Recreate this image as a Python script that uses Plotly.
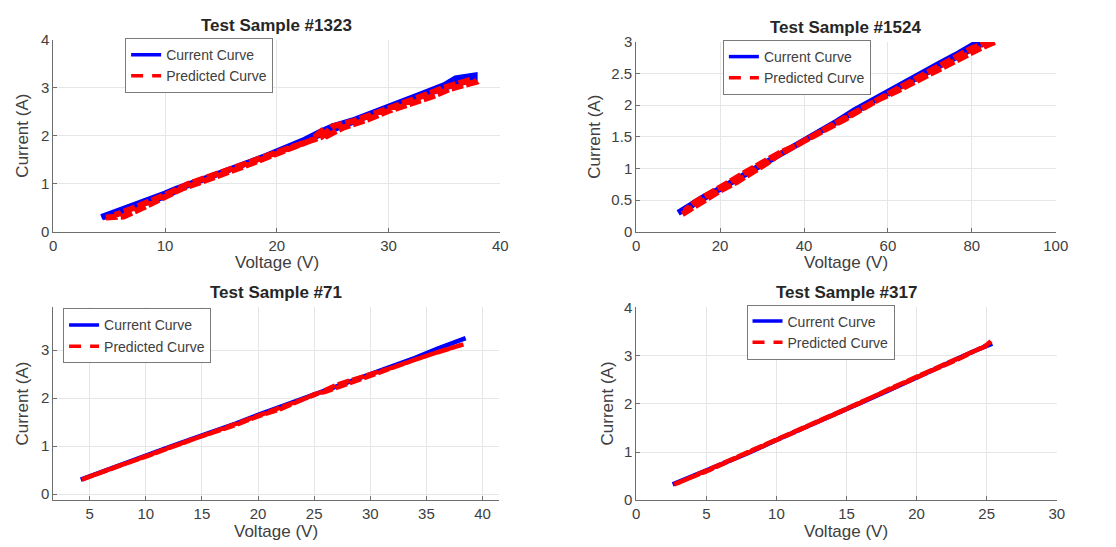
import plotly.graph_objects as go

# ---------------- data ----------------
titles = ["Test Sample #1323", "Test Sample #1524", "Test Sample #71", "Test Sample #317"]

# Sample #1323 (forward sweep followed by return sweep)
s1_cur_v = [4.3, 6, 8, 10, 11, 13, 15, 17, 19, 21, 22.5, 24, 25, 27, 29, 31, 33, 35, 36, 37.7,
            37.7, 36, 34, 32, 30, 28, 26, 24, 22, 20, 18, 16, 14, 12, 10, 8, 6, 4.4]
s1_cur_i = [0.31, 0.45, 0.62, 0.8, 0.9, 1.06, 1.23, 1.4, 1.58, 1.77, 1.92, 2.1, 2.2, 2.34, 2.53, 2.7, 2.88, 3.06, 3.2, 3.26,
            3.18, 3.08, 2.93, 2.76, 2.58, 2.4, 2.24, 2.04, 1.84, 1.66, 1.48, 1.31, 1.14, 0.97, 0.74, 0.58, 0.4, 0.3]
s1_pred_v = [4.7, 6.3, 8, 9.5, 10.5, 11.5, 13, 15, 17, 19, 21, 23, 24, 24.5, 26, 28, 30, 32, 34, 35.5, 37.7,
             37.5, 35, 33, 31, 29, 27, 25, 24, 22, 20, 18, 16, 14, 12, 10.5, 9, 7, 5.5]
s1_pred_i = [0.3, 0.32, 0.5, 0.66, 0.8, 0.9, 1.02, 1.18, 1.36, 1.54, 1.72, 1.9, 2.1, 2.0, 2.18, 2.33, 2.52, 2.66, 2.83, 2.98, 3.12,
             3.18, 3.01, 2.83, 2.66, 2.5, 2.32, 2.2, 1.98, 1.82, 1.67, 1.49, 1.32, 1.15, 0.99, 0.82, 0.66, 0.48, 0.35]

# Sample #1524
s2_cur_v = [10, 13, 16, 20, 24, 28, 32, 36, 40, 44, 48, 52, 56, 60, 64, 68, 72, 76, 80, 82, 84,
            85, 82, 78, 74, 70, 66, 62, 58, 54, 50, 46, 42, 38, 34, 30, 26, 22, 18, 14, 11]
s2_cur_i = [0.3, 0.42, 0.55, 0.68, 0.83, 0.99, 1.15, 1.3, 1.45, 1.59, 1.75, 1.92, 2.07, 2.2, 2.35, 2.5, 2.65, 2.79, 2.94, 3.02, 3.05,
            3.0, 2.96, 2.82, 2.68, 2.56, 2.42, 2.26, 2.12, 1.97, 1.83, 1.67, 1.52, 1.37, 1.22, 1.06, 0.9, 0.75, 0.6, 0.45, 0.31]
s2_pred_v = [11, 14, 17, 20, 24, 28, 31, 34, 38, 42, 46, 50, 54, 58, 62, 66, 70, 74, 78, 82, 85.5,
             84, 80, 76, 72, 68, 65, 62, 58, 54, 50, 46, 42, 38, 34, 30, 26, 22, 18, 14, 11.5]
s2_pred_i = [0.28, 0.41, 0.54, 0.65, 0.79, 0.95, 1.08, 1.22, 1.36, 1.5, 1.64, 1.79, 1.95, 2.1, 2.22, 2.36, 2.5, 2.63, 2.76, 2.9, 3.0,
             3.0, 2.9, 2.76, 2.62, 2.48, 2.38, 2.25, 2.1, 1.96, 1.82, 1.66, 1.51, 1.36, 1.24, 1.1, 0.94, 0.78, 0.62, 0.47, 0.33]

# Sample #71
s3_cur_v = [4.2, 6, 8, 10, 12, 14, 16, 18, 20, 22, 24, 26, 28, 30, 32, 34, 36, 38.5]
s3_cur_i = [0.3, 0.46, 0.62, 0.8, 0.97, 1.14, 1.3, 1.47, 1.65, 1.82, 1.98, 2.15, 2.32, 2.49, 2.66, 2.84, 3.03, 3.25]
s3_pred_v = [4.3, 6, 8, 10, 12, 14, 16, 18, 20, 22, 24, 25, 26, 28, 30, 32, 34, 36, 38.3,
             38, 35, 32, 29, 27, 25, 22, 19, 16, 13, 10, 7, 4.5]
s3_pred_i = [0.3, 0.45, 0.61, 0.79, 0.96, 1.13, 1.28, 1.44, 1.62, 1.77, 1.97, 2.08, 2.13, 2.3, 2.48, 2.63, 2.8, 2.96, 3.12,
             3.08, 2.88, 2.64, 2.42, 2.28, 2.06, 1.8, 1.55, 1.29, 1.04, 0.78, 0.54, 0.32]

# Sample #317
s4_cur_v = [2.6, 4, 6, 8, 10, 12, 14, 16, 18, 20, 22, 24, 25.4]
s4_cur_i = [0.33, 0.5, 0.72, 0.98, 1.25, 1.5, 1.75, 2.02, 2.28, 2.55, 2.82, 3.08, 3.25]
s4_pred_v = [2.7, 4, 5, 7, 9, 11, 13, 14, 15, 16, 18, 20, 21, 22, 23, 24, 25, 25.3,
             25, 23, 21, 19, 17, 15, 13, 11, 9, 7, 5, 3]
s4_pred_i = [0.33, 0.48, 0.6, 0.86, 1.12, 1.38, 1.62, 1.76, 1.88, 2.02, 2.3, 2.56, 2.7, 2.84, 2.96, 3.08, 3.2, 3.3,
             3.22, 2.93, 2.68, 2.43, 2.16, 1.9, 1.64, 1.38, 1.14, 0.88, 0.62, 0.36]

# axis settings
x_ranges = [[0, 40], [0, 100], [1.75, 41.5], [0, 30]]
y_ranges = [[0, 4], [0, 3], [-0.13, 3.89], [0, 4]]
x_ticks = [[0, 10, 20, 30, 40], [0, 20, 40, 60, 80, 100], [5, 10, 15, 20, 25, 30, 35, 40], [0, 5, 10, 15, 20, 25, 30]]
y_ticks = [[0, 1, 2, 3, 4], [0, 0.5, 1, 1.5, 2, 2.5, 3], [0, 1, 2, 3], [0, 1, 2, 3, 4]]
y_tick_text = [["0", "1", "2", "3", "4"], ["0", "0.5", "1", "1.5", "2", "2.5", "3"], ["0", "1", "2", "3"], ["0", "1", "2", "3", "4"]]
line_widths = [6, 6, 4.5, 4.5]

series = [(s1_cur_v, s1_cur_i, s1_pred_v, s1_pred_i),
          (s2_cur_v, s2_cur_i, s2_pred_v, s2_pred_i),
          (s3_cur_v, s3_cur_i, s3_pred_v, s3_pred_i),
          (s4_cur_v, s4_cur_i, s4_pred_v, s4_pred_i)]

# ---------------- layout geometry (pixels) ----------------
W, H = 1116, 547
boxes = [(50, 504, 32, 230), (642, 1068, 34, 230), (50, 503, 308, 507), (642, 1069, 308, 507)]
legend_pos = [(123, 30), (730, 32), (60, 309), (754, 305)]
ylabel_x = [19, 600, 19, 613]

FONT = "Liberation Sans, Arial, Helvetica, sans-serif"
TXT = "#404040"

fig = go.Figure()
layout = dict(width=W, height=H, margin=dict(l=0, r=0, t=0, b=0),
              paper_bgcolor="white", plot_bgcolor="white",
              font=dict(family=FONT, size=15, color=TXT), showlegend=True)
annotations = []

for k in range(4):
    sfx = "" if k == 0 else str(k + 1)
    lg = "legend" if k == 0 else "legend" + str(k + 1)
    cv, ci, pv, pi = series[k]
    lw = line_widths[k]
    # data traces
    fig.add_trace(go.Scatter(x=cv, y=ci, mode="lines", name="Current Curve", showlegend=False,
                             line=dict(color="#0000ff", width=lw),
                             xaxis="x" + sfx, yaxis="y" + sfx, legend=lg))
    fig.add_trace(go.Scatter(x=pv, y=pi, mode="lines", name="Predicted Curve", showlegend=False,
                             line=dict(color="#ff0000", width=lw, dash="12px,3px"),
                             xaxis="x" + sfx, yaxis="y" + sfx, legend=lg))
    # legend entries
    fig.add_trace(go.Scatter(x=[None], y=[None], mode="lines", name="Current Curve",
                             line=dict(color="#0000ff", width=3.5),
                             xaxis="x" + sfx, yaxis="y" + sfx, legend=lg))
    fig.add_trace(go.Scatter(x=[None], y=[None], mode="lines", name="Predicted Curve",
                             line=dict(color="#ff0000", width=3.5, dash="12px,9px"),
                             xaxis="x" + sfx, yaxis="y" + sfx, legend=lg))
    l, r, t, b = boxes[k]
    axis_common = dict(showgrid=True, gridcolor="#e6e6e6", gridwidth=1, zeroline=False,
                       showline=True, linecolor="#6e6e6e", linewidth=1,
                       ticks="inside", ticklen=4, tickcolor="#6e6e6e",
                       tickfont=dict(family=FONT, size=15, color=TXT), mirror=False)
    layout["xaxis" + sfx] = dict(axis_common, domain=[l / W, r / W], range=x_ranges[k],
                                 tickvals=x_ticks[k], anchor="y" + sfx)
    layout["yaxis" + sfx] = dict(axis_common, domain=[1 - b / H, 1 - t / H], range=y_ranges[k],
                                 tickvals=y_ticks[k], ticktext=y_tick_text[k], anchor="x" + sfx)
    lx, ly = legend_pos[k]
    layout[lg] = dict(x=lx / W, y=1 - ly / H, xanchor="left", yanchor="top",
                      bgcolor="white", bordercolor="#7a7a7a", borderwidth=1,
                      font=dict(family=FONT, size=14, color=TXT),
                      tracegroupgap=0)
    # title
    annotations.append(dict(text="<b>" + titles[k] + "</b>", x=(l + r) / 2 / W, y=1 - (t - 15) / H,
                            xref="paper", yref="paper", showarrow=False,
                            font=dict(family=FONT, size=17, color="#262626"),
                            xanchor="center", yanchor="middle"))
    # x label
    annotations.append(dict(text="Voltage (V)", x=(l + r) / 2 / W, y=1 - (b + 32) / H,
                            xref="paper", yref="paper", showarrow=False,
                            font=dict(family=FONT, size=17, color=TXT),
                            xanchor="center", yanchor="middle"))
    # y label
    annotations.append(dict(text="Current (A)", x=ylabel_x[k] / W, y=1 - (t + b) / 2 / H,
                            xref="paper", yref="paper", showarrow=False, textangle=-90,
                            font=dict(family=FONT, size=17, color=TXT),
                            xanchor="center", yanchor="middle"))

layout["annotations"] = annotations
fig.update_layout(**layout)
fig.write_html("out.html")
